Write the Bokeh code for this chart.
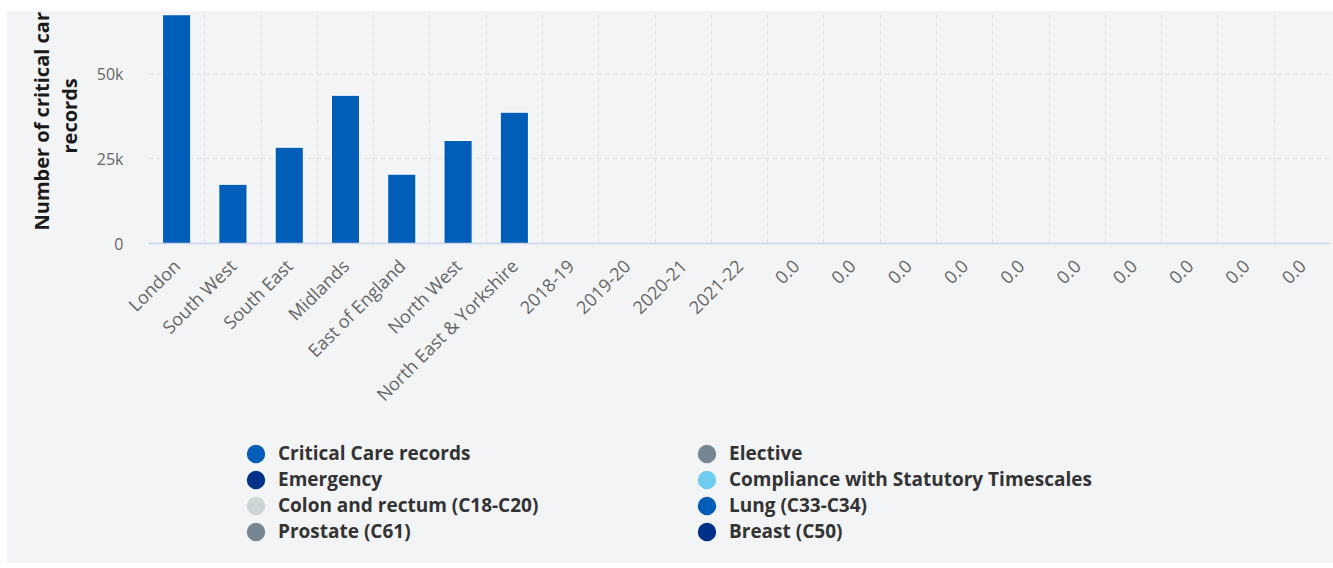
import math

from bokeh.embed import file_html
from bokeh.resources import INLINE
from bokeh.layouts import column, row
from bokeh.plotting import figure
from bokeh.models import FixedTicker, Legend, LegendItem, Label, Range1d

# ---- data -------------------------------------------------------------
categories = ["London", "South West", "South East", "Midlands",
              "East of England", "North West", "North East & Yorkshire",
              "2018-19", "2019-20", "2020-21", "2021-22",
              "0.0", "0.0", "0.0", "0.0", "0.0",
              "0.0", "0.0", "0.0", "0.0", "0.0"]
region_names = categories[:7]
critical_care_records = [67600, 17500, 28450, 43800, 20500, 30450, 38800]

y_ticks = [0, 25000, 50000]
y_tick_labels = ["0", "25k", "50k"]

legend_left = [("Critical Care records", "#005eb8"),
               ("Emergency", "#003087"),
               ("Colon and rectum (C18-C20)", "#d0d6d7"),
               ("Prostate (C61)", "#768692")]
legend_right = [("Elective", "#768692"),
                ("Compliance with Statutory Timescales", "#6fcdf1"),
                ("Lung (C33-C34)", "#005eb8"),
                ("Breast (C50)", "#003087")]

BG = "#f3f4f6"
FONT = "Open Sans"

TOTAL_W, TOP_H, LEGEND_H = 1326, 410, 142
TITLE_W = 81
FRAME_H = 232


def blank(width, height):
    """A plain gray panel without axes or grid."""
    f = figure(width=width, height=height, output_backend="svg",
               toolbar_location=None, x_range=Range1d(0, width),
               y_range=Range1d(0, height), x_axis_location=None,
               y_axis_location=None, min_border=0,
               background_fill_color=BG, border_fill_color=BG,
               outline_line_color=None)
    f.grid.visible = False
    return f


# ---- y axis title panel (two rotated lines) ---------------------------
# its frame lines up with the chart frame, so y is measured from the baseline
title_panel = blank(TITLE_W, TOP_H)
title_style = dict(x_units="screen", y_units="screen", angle=math.pi / 2,
                   text_align="left", text_baseline="alphabetic",
                   text_font=FONT, text_font_style="bold",
                   text_font_size="20px", text_color="#1a1a1a")
title_panel.add_layout(Label(x=34, y=13, text="Number of critical care",
                             **title_style))
title_panel.add_layout(Label(x=62, y=90, text="records", **title_style))

# ---- main chart -------------------------------------------------------
p = figure(width=TOTAL_W - TITLE_W, height=TOP_H, output_backend="svg",
           toolbar_location=None,
           x_range=Range1d(-0.5, len(categories) - 0.5),
           y_range=Range1d(0, 68560),
           min_border_left=60, min_border_right=3,
           min_border_top=0, min_border_bottom=TOP_H - FRAME_H,
           background_fill_color=BG, border_fill_color=BG,
           outline_line_color=None)

p.vbar(x=list(range(len(region_names))), top=critical_care_records,
       width=0.5, fill_color="#005eb8", line_color="white", line_width=1)

# x axis: one tick per category, labels rotated
xa = p.xaxis[0]
xa.ticker = FixedTicker(ticks=list(range(len(categories))))
xa.major_label_overrides = {i: c for i, c in enumerate(categories)}
xa.major_label_orientation = math.pi / 4
xa.major_label_text_font = FONT
xa.major_label_text_font_size = "18px"
xa.major_label_text_color = "#666666"
xa.major_label_standoff = 13
xa.axis_line_color = "#ccd6eb"
xa.axis_line_width = 1.5
xa.major_tick_line_color = None
xa.minor_tick_line_color = None

# y axis
ya = p.yaxis[0]
ya.ticker = FixedTicker(ticks=y_ticks)
ya.major_label_overrides = dict(zip(y_ticks, y_tick_labels))
ya.major_label_text_font = FONT
ya.major_label_text_font_size = "16px"
ya.major_label_text_color = "#666666"
ya.major_label_standoff = 25
ya.major_tick_out = 0
ya.major_tick_line_color = None
ya.minor_tick_line_color = None
ya.axis_line_color = None

# dashed grid: vertical lines between categories, horizontal at ticks
p.xgrid[0].ticker = FixedTicker(ticks=[i - 0.5 for i in range(len(categories) + 1)])
p.xgrid[0].grid_line_color = "#e2e3e4"
p.xgrid[0].grid_line_dash = "5 3"
p.ygrid[0].grid_line_color = "#e2e3e4"
p.ygrid[0].grid_line_dash = "5 3"

# ---- legend panel (two columns) ---------------------------------------
legend_panel = blank(TOTAL_W, LEGEND_H)


def make_legend(entries, loc):
    items = []
    for name, color in entries:
        # one off-canvas point so the legend swatch has something to draw
        r = legend_panel.ellipse(x=[-500], y=[-500], width=10, height=10,
                                 fill_color=color, line_color=None)
        items.append(LegendItem(label=name, renderers=[r], index=0))
    return Legend(items=items, location=loc, orientation="vertical",
                  glyph_width=23, glyph_height=25, spacing=0,
                  label_standoff=11, label_height=20, padding=0, margin=0,
                  border_line_color=None, background_fill_alpha=0,
                  label_text_font=FONT, label_text_font_style="bold",
                  label_text_font_size="19px", label_text_color="#333333")


legend_panel.add_layout(make_legend(legend_left, (237, 19)), "center")
legend_panel.add_layout(make_legend(legend_right, (688, 19)), "center")

layout = column(row(title_panel, p, spacing=0), legend_panel, spacing=0)
layout.margin = (11, 0, 5, 7)
layout.styles = {"background-color": BG}

open("out.html", "w").write(file_html(layout, INLINE))
